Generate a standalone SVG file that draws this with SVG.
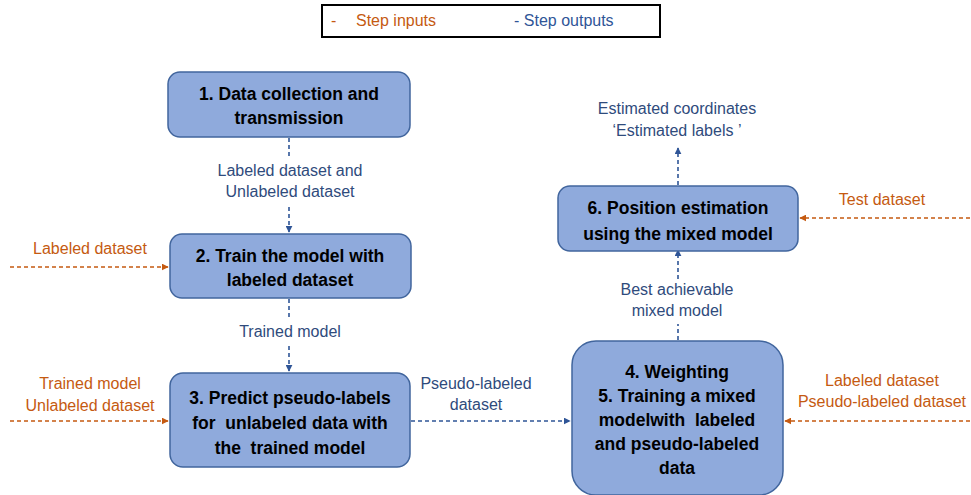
<svg xmlns="http://www.w3.org/2000/svg" width="971" height="495" viewBox="0 0 971 495">
<style>
.node{fill:#8faadc;stroke:#41659d;stroke-width:1.5}
.nt{font-family:"Liberation Sans",Arial,sans-serif;font-size:17.5px;font-weight:bold;fill:#000;text-anchor:middle;white-space:pre}
.lb{font-family:"Liberation Sans",Arial,sans-serif;font-size:16px;fill:#2f4b7c;text-anchor:middle}
.in{font-family:"Liberation Sans",Arial,sans-serif;font-size:16px;fill:#c55a11;text-anchor:middle}
.lg{font-family:"Liberation Sans",Arial,sans-serif;font-size:16px}
.cb{fill:none;stroke:#2f5597;stroke-width:1.6;stroke-dasharray:4 3}
.co{fill:none;stroke:#c55a11;stroke-width:1.6;stroke-dasharray:4 3}
</style>
<defs>
<marker id="ab" viewBox="0 0 10 10" refX="9" refY="5" markerWidth="7" markerHeight="7" markerUnits="userSpaceOnUse" orient="auto"><path d="M0,0 L10,5 L0,10 z" fill="#2f5597"/></marker>
<marker id="ao" viewBox="0 0 10 10" refX="9" refY="5" markerWidth="7" markerHeight="7" markerUnits="userSpaceOnUse" orient="auto"><path d="M0,0 L10,5 L0,10 z" fill="#c55a11"/></marker>
</defs>
<rect width="971" height="495" fill="#fff"/>
<g id="legend">
<rect x="322" y="5" width="338" height="32" fill="#fff" stroke="#000" stroke-width="2"/>
<text class="lg" x="331" y="26" fill="#c55a11">-</text>
<text class="lg" x="356" y="26" fill="#c55a11">Step inputs</text>
<text class="lg" x="514" y="26" fill="#2f5597">- Step outputs</text>
</g>
<g id="connectors">
<path class="cb" d="M289,138 V157"/>
<path class="cb" d="M289,207 V232" marker-end="url(#ab)"/>
<path class="cb" d="M289,299 V318"/>
<path class="cb" d="M289,346 V371" marker-end="url(#ab)"/>
<path class="cb" d="M411,421 H570" marker-end="url(#ab)"/>
<path class="cb" d="M678,340 V324"/>
<path class="cb" d="M678,279 V250" marker-end="url(#ab)"/>
<path class="cb" d="M678,185 V148" marker-end="url(#ab)"/>
<path class="co" d="M10,267 H168" marker-end="url(#ao)"/>
<path class="co" d="M10,421 H168" marker-end="url(#ao)"/>
<path class="co" d="M970,421 H785" marker-end="url(#ao)"/>
<path class="co" d="M970,218 H800" marker-end="url(#ao)"/>
<text class="lb" x="290" y="176">Labeled dataset and</text>
<text class="lb" x="290" y="197">Unlabeled dataset</text>
<text class="lb" x="290" y="337">Trained model</text>
<text class="lb" x="476" y="389">Pseudo-labeled</text>
<text class="lb" x="476" y="410">dataset</text>
<text class="lb" x="677" y="295">Best achievable</text>
<text class="lb" x="677" y="316">mixed model</text>
<text class="lb" x="677" y="114">Estimated coordinates</text>
<text class="lb" x="677" y="136">‘Estimated labels ’</text>
<text class="in" x="90" y="254">Labeled dataset</text>
<text class="in" x="90" y="389">Trained model</text>
<text class="in" x="90" y="411">Unlabeled dataset</text>
<text class="in" x="882" y="386">Labeled dataset</text>
<text class="in" x="882" y="407">Pseudo-labeled dataset</text>
<text class="in" x="882" y="205">Test dataset</text>
</g>
<g id="n1">
<rect class="node" x="168" y="72" width="242" height="65" rx="12"/>
<text class="nt" x="289" y="100">1. Data collection and</text>
<text class="nt" x="289" y="124">transmission</text>
</g>
<g id="n2">
<rect class="node" x="170" y="234" width="241" height="64" rx="12"/>
<text class="nt" x="290" y="262">2. Train the model with</text>
<text class="nt" x="290" y="286">labeled dataset</text>
</g>
<g id="n3">
<rect class="node" x="170" y="373" width="240" height="94" rx="13"/>
<text class="nt" x="290" y="404">3. Predict pseudo-labels</text>
<text class="nt" x="290" y="429">for  unlabeled data with</text>
<text class="nt" x="290" y="454">the  trained model</text>
</g>
<g id="n45">
<rect class="node" x="572" y="341" width="211" height="154" rx="24"/>
<text class="nt" x="677" y="378">4. Weighting</text>
<text class="nt" x="677" y="402">5. Training a mixed</text>
<text class="nt" x="677" y="426">modelwith  labeled</text>
<text class="nt" x="677" y="450">and pseudo-labeled</text>
<text class="nt" x="677" y="474">data</text>
</g>
<g id="n6">
<rect class="node" x="558" y="186" width="240" height="65" rx="12"/>
<text class="nt" x="678" y="214">6. Position estimation</text>
<text class="nt" x="678" y="240">using the mixed model</text>
</g>
</svg>
